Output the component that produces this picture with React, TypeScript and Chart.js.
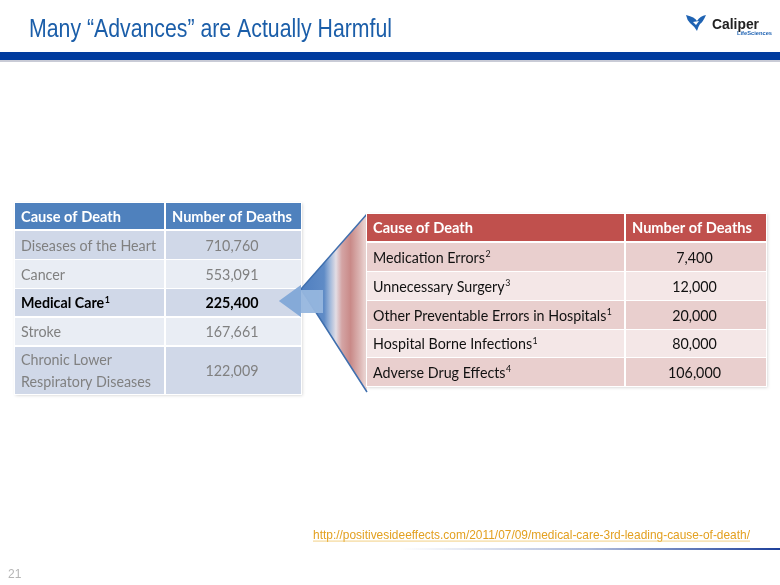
import { useEffect, useRef } from "react";
import { Chart, registerables } from "chart.js";

Chart.register(...registerables);

// ---------- data ----------
const slideTitle = "Many “Advances” are Actually Harmful";
const tableHeaders = ["Cause of Death", "Number of Deaths"];

const leftCauses = ["Diseases of the Heart", "Cancer", "Medical Care", "Stroke", "Chronic Lower\nRespiratory Diseases"];
const leftDeaths = [710760, 553091, 225400, 167661, 122009];
const leftNotes = ["", "", "1", "", ""];
const leftHighlight = [false, false, true, false, false];

const rightCauses = ["Medication Errors", "Unnecessary Surgery", "Other Preventable Errors in Hospitals", "Hospital Borne Infections", "Adverse Drug Effects"];
const rightDeaths = [7400, 12000, 20000, 80000, 106000];
const rightNotes = ["2", "3", "1", "1", "4"];

const sourceUrl = "http://positivesideeffects.com/2011/07/09/medical-care-3rd-leading-cause-of-death/";
const pageNumber = "21";

// ---------- drawing helpers ----------
const BODY_FONT = "Lato, 'Noto Sans', sans-serif";
const ARIAL = "'Liberation Sans', Arial, sans-serif";

function widthAt(ctx: CanvasRenderingContext2D, text: string, font: string) {
  ctx.font = font;
  return ctx.measureText(text).width;
}

// draw text with a horizontal squeeze factor sx
function sText(ctx: CanvasRenderingContext2D, text: string, x: number, y: number, font: string, color: string, sx: number, align: "left" | "center" = "left") {
  ctx.save();
  ctx.font = font;
  ctx.fillStyle = color;
  ctx.textAlign = "left";
  ctx.textBaseline = "alphabetic";
  const w = ctx.measureText(text).width * sx;
  const x0 = align === "center" ? x - w / 2 : x;
  ctx.translate(x0, y);
  ctx.scale(sx, 1);
  ctx.fillText(text, 0, 0);
  ctx.restore();
  return w;
}

function drawWithSup(
  ctx: CanvasRenderingContext2D,
  text: string,
  sup: string,
  x: number,
  y: number,
  size: number,
  weight: string,
  color: string,
  sx: number
) {
  const w = sText(ctx, text, x, y, `${weight} ${size}px ${BODY_FONT}`, color, sx);
  if (sup) {
    sText(ctx, sup, x + w + 0.5, y - size * 0.36, `${weight} ${size * 0.62}px ${BODY_FONT}`, color, sx);
  }
}

type TableSpec = {
  x0: number;
  x1: number;
  xs: number;
  header: [number, number];
  rows: [number, number][];
  headerColor: string;
  rowColors: string[];
  causes: string[];
  deaths: number[];
  notes: string[];
  highlight: boolean[];
  textColor: string;
  bodySize: number;
  bodySx: number;
  headSize: number;
  headSx: number;
};

function drawTable(ctx: CanvasRenderingContext2D, t: TableSpec) {
  const top = t.header[0];
  const bottom = t.rows[t.rows.length - 1][1];
  ctx.save();
  ctx.shadowColor = "rgba(0,0,0,0.18)";
  ctx.shadowBlur = 3;
  ctx.shadowOffsetX = 0.5;
  ctx.shadowOffsetY = 0.5;
  ctx.fillStyle = "#ffffff";
  ctx.fillRect(t.x0 - 1, top - 1, t.x1 - t.x0 + 2, bottom - top + 2);
  ctx.restore();

  ctx.fillStyle = t.headerColor;
  ctx.fillRect(t.x0, t.header[0], t.xs - t.x0 - 1, t.header[1] - t.header[0]);
  ctx.fillRect(t.xs + 1, t.header[0], t.x1 - t.xs - 1, t.header[1] - t.header[0]);
  const hc = (t.header[0] + t.header[1]) / 2 + t.headSize * 0.36;
  drawWithSup(ctx, tableHeaders[0], "", t.x0 + 6, hc, t.headSize, "bold", "#ffffff", t.headSx);
  drawWithSup(ctx, tableHeaders[1], "", t.xs + 7, hc, t.headSize, "bold", "#ffffff", t.headSx);

  t.rows.forEach(([a, b], i) => {
    ctx.fillStyle = t.rowColors[i % 2];
    ctx.fillRect(t.x0, a, t.xs - t.x0 - 1, b - a);
    ctx.fillRect(t.xs + 1, a, t.x1 - t.xs - 1, b - a);
    const c = (a + b) / 2 + t.bodySize * 0.36;
    const hl = t.highlight[i];
    const weight = hl ? "bold" : "normal";
    const color = hl ? "#000000" : t.textColor;
    const lines = t.causes[i].split("\n");
    const lh = 22;
    lines.forEach((ln, k) => {
      const y = c + (k - (lines.length - 1) / 2) * lh;
      drawWithSup(ctx, ln, k === lines.length - 1 ? t.notes[i] : "", t.x0 + 6, y, t.bodySize, weight, color, t.bodySx);
    });
    sText(ctx, t.deaths[i].toLocaleString("en-US"), (t.xs + t.x1) / 2 - 1, c, `${weight} ${t.bodySize}px ${BODY_FONT}`, color, t.bodySx, "center");
  });
}

const slidePlugin = {
  id: "slide",
  afterDraw(chart: Chart) {
    const ctx = chart.ctx;
    const W = chart.width;
    ctx.save();

    // title (squeezed to the reference width)
    const tFont = `25px ${ARIAL}`;
    sText(ctx, slideTitle, 29, 37, tFont, "#1B5EA9", 363 / widthAt(ctx, slideTitle, tFont));

    // top bars
    ctx.fillStyle = "#003B9E";
    ctx.fillRect(0, 52, W, 8);
    ctx.fillStyle = "#C9CBD6";
    ctx.fillRect(0, 60, W, 2);

    // logo icon: three-bladed mark
    ctx.fillStyle = "#1F63B3";
    ctx.beginPath();
    ctx.moveTo(686, 15);
    ctx.quadraticCurveTo(695, 17, 697, 21);
    ctx.quadraticCurveTo(700, 16, 706, 15);
    ctx.quadraticCurveTo(703, 22, 700, 24);
    ctx.quadraticCurveTo(698, 27, 697, 31);
    ctx.quadraticCurveTo(694, 26, 690, 23);
    ctx.quadraticCurveTo(687, 20, 686, 15);
    ctx.closePath();
    ctx.fill();
    ctx.fillStyle = "#ffffff";
    ctx.beginPath();
    ctx.moveTo(693, 22);
    ctx.lineTo(699, 21);
    ctx.lineTo(696, 25);
    ctx.closePath();
    ctx.fill();
    const cFont = `bold 15.5px ${ARIAL}`;
    sText(ctx, "Caliper", 712, 29, cFont, "#222222", 47 / widthAt(ctx, "Caliper", cFont));
    const lFont = `bold 6px ${ARIAL}`;
    sText(ctx, "LifeSciences", 737, 35, lFont, "#1F63B3", 35 / widthAt(ctx, "LifeSciences", lFont));

    // table fonts: size from cap height, squeeze to reference widths
    const bodySize = 15.5;
    const bodySx = 135 / widthAt(ctx, "Diseases of the Heart", `normal ${bodySize}px ${BODY_FONT}`);
    const headSize = 16;
    const headSx = 120 / widthAt(ctx, "Number of Deaths", `bold ${headSize}px ${BODY_FONT}`);

    // left table
    drawTable(ctx, {
      x0: 15,
      x1: 301,
      xs: 165,
      header: [203, 229],
      rows: [
        [231, 259],
        [260, 288],
        [289, 316],
        [318, 345],
        [347, 394],
      ],
      headerColor: "#4F81BD",
      rowColors: ["#D0D8E8", "#E9EDF4"],
      causes: leftCauses,
      deaths: leftDeaths,
      notes: leftNotes,
      highlight: leftHighlight,
      textColor: "#808080",
      bodySize,
      bodySx,
      headSize,
      headSx,
    });

    // funnel
    const gx = ctx.createLinearGradient(301, 0, 367, 0);
    gx.addColorStop(0, "#4F7FC0");
    gx.addColorStop(0.35, "#5F8BC6");
    gx.addColorStop(0.45, "#A8BDDC");
    gx.addColorStop(0.53, "#E3DDE4");
    gx.addColorStop(0.62, "#D4A4A4");
    gx.addColorStop(0.75, "#C98A88");
    gx.addColorStop(0.9, "#DDB8B6");
    gx.addColorStop(1, "#F0DEDC");
    ctx.fillStyle = gx;
    ctx.beginPath();
    ctx.moveTo(301, 289);
    ctx.lineTo(367, 214);
    ctx.lineTo(367, 392);
    ctx.closePath();
    ctx.fill();
    ctx.strokeStyle = "#3F6FAE";
    ctx.lineWidth = 1.5;
    ctx.beginPath();
    ctx.moveTo(367, 214);
    ctx.lineTo(301, 289);
    ctx.lineTo(367, 392);
    ctx.stroke();

    // arrow
    ctx.fillStyle = "rgba(150,182,222,0.95)";
    ctx.beginPath();
    ctx.moveTo(279, 301);
    ctx.lineTo(301, 285);
    ctx.lineTo(301, 290);
    ctx.lineTo(323, 290);
    ctx.lineTo(323, 313);
    ctx.lineTo(301, 313);
    ctx.lineTo(301, 317);
    ctx.closePath();
    ctx.fill();
    ctx.fillStyle = "rgba(120,160,212,0.6)";
    ctx.beginPath();
    ctx.moveTo(279, 301);
    ctx.lineTo(301, 285);
    ctx.lineTo(301, 317);
    ctx.closePath();
    ctx.fill();

    // right table
    drawTable(ctx, {
      x0: 367,
      x1: 766,
      xs: 625,
      header: [214, 241],
      rows: [
        [243, 271],
        [272, 300],
        [301, 329],
        [330, 357],
        [358, 386],
      ],
      headerColor: "#C0504D",
      rowColors: ["#E9CFCE", "#F4E7E7"],
      causes: rightCauses,
      deaths: rightDeaths,
      notes: rightNotes,
      highlight: [false, false, false, false, false],
      textColor: "#111111",
      bodySize,
      bodySx,
      headSize,
      headSx,
    });

    // source link
    const uFont = `13.5px ${ARIAL}`;
    sText(ctx, sourceUrl, 313, 539, uFont, "#E3A020", 437 / widthAt(ctx, sourceUrl, uFont));
    ctx.fillStyle = "rgba(240,200,110,0.7)";
    ctx.fillRect(313, 540.5, 437, 1.2);

    // bottom gradient line
    const gl = ctx.createLinearGradient(400, 0, 780, 0);
    gl.addColorStop(0, "rgba(29,63,154,0)");
    gl.addColorStop(0.5, "rgba(29,63,154,0.35)");
    gl.addColorStop(1, "rgba(29,63,154,1)");
    ctx.fillStyle = gl;
    ctx.fillRect(400, 548, 380, 2);

    // page number
    sText(ctx, pageNumber, 8, 578, `12px ${ARIAL}`, "#B5B5B5", 1);

    ctx.restore();
  },
};

export default function App() {
  const ref = useRef<HTMLCanvasElement>(null);
  useEffect(() => {
    if (!ref.current) return;
    const chart = new Chart(ref.current, {
      type: "bar",
      data: { labels: [], datasets: [] },
      options: {
        animation: false,
        responsive: false,
        events: [],
        plugins: { legend: { display: false }, tooltip: { enabled: false }, title: { display: false } },
        scales: { x: { display: false }, y: { display: false } },
      },
      plugins: [slidePlugin as any],
    });
    return () => chart.destroy();
  }, []);
  return (
    <div style={{ position: "absolute", left: 0, top: 0, width: 780, height: 585, background: "#ffffff" }}>
      <canvas ref={ref} width={780} height={585} style={{ display: "block" }} />
    </div>
  );
}
